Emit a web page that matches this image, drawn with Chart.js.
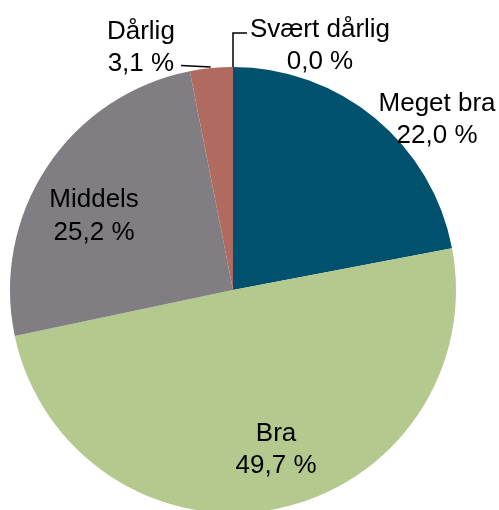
<!DOCTYPE html>
<html>
<head>
<meta charset="utf-8">
<script src="https://cdn.jsdelivr.net/npm/chart.js@4"></script>
<style>
  html, body { margin: 0; padding: 0; background: #fff; }
  #wrap { width: 499px; height: 510px; }
</style>
</head>
<body>
<div id="wrap"><canvas id="piechart" width="499" height="510"></canvas></div>
<script>
const categories = ['Meget bra', 'Bra', 'Middels', 'Dårlig', 'Svært dårlig'];
const values = [22.0, 49.7, 25.2, 3.1, 0.0];
const colors = ['#00516e', '#b3c98d', '#807d83', '#b06a60', '#c98a4b'];

// label anchors, in units of the radius from the pie centre
const labelSpots = [[0.915, -0.733], [0.193, 0.747], [-0.623, -0.300], [-0.413, -1.056], [0.39, -1.065]];
// leader lines (radius units), only for the small slices
const leaders = {
    3: [[-0.10, -1.0], [-0.233, -1.007]],
    4: [[0, -1.0], [0, -1.152], [0.063, -1.152]]
};

const fmt = v => v.toFixed(1).replace('.', ',') + ' %';

const labelPlugin = {
    id: 'pieLabels',
    afterDatasetsDraw(chart) {
        const ctx = chart.ctx;
        const arcs = chart.getDatasetMeta(0).data;
        const cx = arcs[0].x, cy = arcs[0].y, r = arcs[0].outerRadius;
        ctx.save();
        ctx.strokeStyle = '#000';
        ctx.lineWidth = 1.5;
        Object.keys(leaders).forEach(k => {
            const pts = leaders[k];
            ctx.beginPath();
            pts.forEach((p, j) => {
                const x = cx + p[0] * r, y = cy + p[1] * r;
                if (j === 0) ctx.moveTo(x, y); else ctx.lineTo(x, y);
            });
            ctx.stroke();
        });
        ctx.fillStyle = '#000';
        ctx.font = '26px "Liberation Sans", Arial, sans-serif';
        ctx.textAlign = 'center';
        ctx.textBaseline = 'alphabetic';
        categories.forEach((c, i) => {
            const x = cx + labelSpots[i][0] * r;
            const y = cy + labelSpots[i][1] * r;
            ctx.fillText(c, x, y - 16);
            ctx.fillText(fmt(values[i]), x, y + 16.5);
        });
        ctx.restore();
    }
};

const ctx = document.getElementById('piechart').getContext('2d');
const myChart = new Chart(ctx, {
    type: 'pie',
    data: {
        labels: categories,
        datasets: [{
            data: values,
            backgroundColor: colors,
            borderWidth: 0,
            radius: 223
        }]
    },
    options: {
        responsive: false,
        animation: false,
        layout: { padding: { left: 10, right: 43, top: 70, bottom: 0 } },
        plugins: {
            legend: { display: false },
            tooltip: { enabled: false }
        }
    },
    plugins: [labelPlugin]
});
</script>
</body>
</html>
